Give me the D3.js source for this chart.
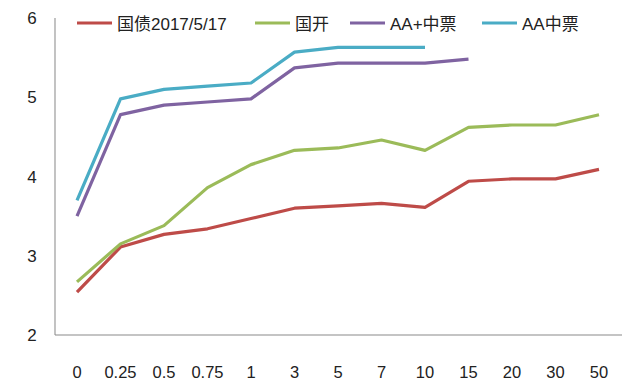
<!DOCTYPE html>
<html><head><meta charset="utf-8">
<script src="https://cdn.jsdelivr.net/npm/d3@7"></script>
<style>body{margin:0;background:#fff;}svg{display:block;}</style>
</head><body>
<svg id="c" width="640" height="383"></svg>
<script>
const categories = ["0","0.25","0.5","0.75","1","3","5","7","10","15","20","30","50"];
const seriesNames = ["国债2017/5/17","国开","AA+中票","AA中票"];
const guozhai = [2.54,3.11,3.27,3.34,3.47,3.60,3.63,3.66,3.61,3.94,3.97,3.97,4.09];
const guokai  = [2.67,3.15,3.38,3.86,4.15,4.33,4.36,4.46,4.33,4.62,4.65,4.65,4.78];
const aaPlus  = [3.50,4.78,4.90,4.94,4.98,5.37,5.43,5.43,5.43,5.48];
const aa      = [3.70,4.98,5.10,5.14,5.18,5.57,5.63,5.63,5.63];
const yTicks = [2,3,4,5,6];
const colors = ["#BE4B48","#9BBB59","#7F63A1","#4AACC5"];

const svg = d3.select("#c");
const font = "Liberation Sans, Arial, 'Noto Sans CJK SC', sans-serif";
const x = d3.scalePoint().domain(categories).range([77, 599]);
const y = d3.scaleLinear().domain([2,6]).range([335, 18]);

// axes
svg.append("line").attr("x1",55).attr("x2",55).attr("y1",18).attr("y2",335).attr("stroke","#9a9a9a").attr("stroke-width",1.2);
svg.append("line").attr("x1",55).attr("x2",622).attr("y1",335).attr("y2",335).attr("stroke","#8a8a8a").attr("stroke-width",1.2);

svg.selectAll("text.yt").data(yTicks).enter().append("text")
  .attr("x",32).attr("y",d=>y(d)+6).attr("text-anchor","middle")
  .attr("font-family",font).attr("font-size",17).attr("fill","#222").text(d=>d);
svg.selectAll("text.xt").data(categories).enter().append("text")
  .attr("x",d=>x(d)).attr("y",378).attr("text-anchor","middle")
  .attr("font-family",font).attr("font-size",16.5).attr("fill","#222").text(d=>d);

const all = [guozhai, guokai, aaPlus, aa];
const line = d3.line().x((d,i)=>x(categories[i])).y(d=>y(d));
all.forEach((s,k)=>{
  svg.append("path").attr("d",line(s)).attr("fill","none")
    .attr("stroke",colors[k]).attr("stroke-width",3.2).attr("stroke-linejoin","round");
});

// legend
const legX = [77, 255, 350, 482];
seriesNames.forEach((n,k)=>{
  svg.append("line").attr("x1",legX[k]).attr("x2",legX[k]+35).attr("y1",23).attr("y2",23)
    .attr("stroke",colors[k]).attr("stroke-width",3);
  svg.append("text").attr("x",legX[k]+40).attr("y",30).attr("font-family",font)
    .attr("font-size",17).attr("fill","#222").text(n);
});
</script>
</body></html>
